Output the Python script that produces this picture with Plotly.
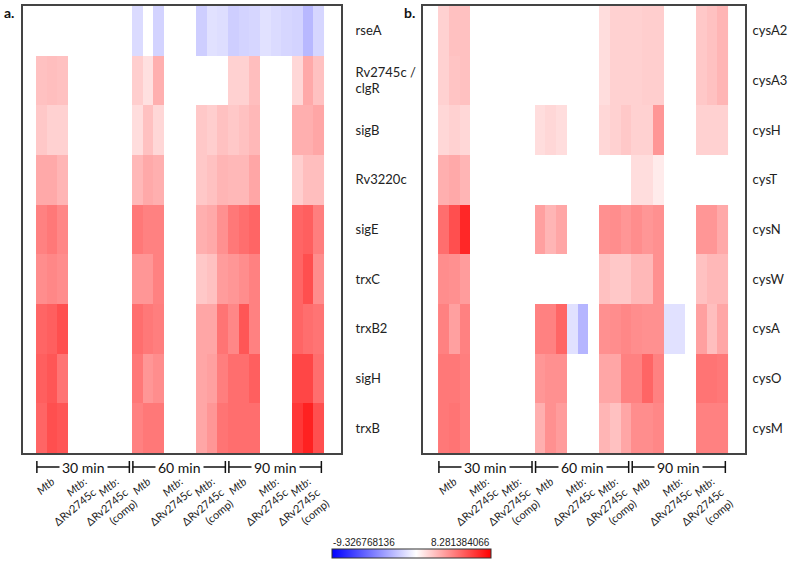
import plotly.graph_objects as go

N = None
# ---------------- data ----------------
genes_a = ["rseA", "Rv2745c /<br>clgR", "sigB", "Rv3220c", "sigE", "trxC", "trxB2", "sigH", "trxB"]
genes_b = ["cysA2", "cysA3", "cysH", "cysT", "cysN", "cysW", "cysA", "cysO", "cysM"]

time_groups = ["30 min", "60 min", "90 min"]
strain_labels = ["<i>Mtb</i>", "<i>Mtb</i>:<br>ΔRv2745c", "<i>Mtb</i>:<br>ΔRv2745c<br>(comp)"]

zmin_val = -9.326768136
zmax_val = 8.281384066

# panel a (27 sub-columns: 3 times x 3 strains x 3 replicates)
rseA    = [N, N, N,  N, N, N,  N, N, N,  -1.3, N, -1.6,  N, N, N,  -1.8, -1.1, -1.2,  -1.8, -1.6, -1.5,  -1.1, -1.3, -1.5,  -1.6, -2.6, -1.5]
clgR    = [2.0, 2.1, 2.0,  N, N, N,  N, N, N,  1.6, 1.0, 2.6,  N, N, N,  N, N, N,  1.5, 1.5, 2.1,  N, N, N,  1.3, 2.8, 2.0]
sigB    = [1.8, 1.5, 1.5,  N, N, N,  N, N, N,  1.1, 2.0, 1.3,  N, N, N,  1.8, 1.6, 2.0,  1.8, 2.0, 2.3,  N, N, N,  2.6, 2.6, 2.9]
Rv3220c = [2.8, 2.8, 2.4,  N, N, N,  N, N, N,  2.3, 2.8, 2.6,  N, N, N,  1.8, 2.0, 2.4,  2.3, 2.3, 2.9,  N, N, N,  1.6, 2.1, 2.1]
sigE    = [4.1, 4.4, 3.9,  N, N, N,  N, N, N,  4.4, 4.1, 4.1,  N, N, N,  2.6, 2.8, 3.6,  4.4, 4.7, 5.0,  N, N, N,  5.0, 5.2, 4.2]
trxC    = [3.7, 3.9, 3.7,  N, N, N,  N, N, N,  3.4, 3.4, 4.1,  N, N, N,  1.8, 2.0, 3.2,  3.4, 3.7, 4.1,  N, N, N,  5.0, 5.7, 3.7]
trxB2   = [5.0, 5.2, 5.7,  N, N, N,  N, N, N,  4.7, 4.4, 4.2,  N, N, N,  2.9, 2.9, 4.5,  3.9, 5.5, 4.1,  N, N, N,  5.0, 4.7, 4.5]
sigH    = [5.2, 5.5, 4.5,  N, N, N,  N, N, N,  4.4, 3.4, 3.7,  N, N, N,  2.9, 3.1, 4.2,  4.7, 4.7, 5.2,  N, N, N,  6.0, 6.0, 4.7]
trxB    = [5.0, 5.7, 5.5,  N, N, N,  N, N, N,  4.1, 4.4, 4.4,  N, N, N,  2.9, 3.4, 4.5,  4.7, 4.7, 4.7,  N, N, N,  6.5, 7.2, 5.7]

# panel b
cysA2 = [1.5, 2.0, 2.0,  N, N, N,  N, N, N,  N, N, N,  N, N, N,  1.1, 1.5, 1.5,  1.5, 1.6, 1.6,  N, N, N,  1.8, 2.0, 2.4]
cysA3 = [1.5, 1.9, 2.0,  N, N, N,  N, N, N,  N, N, N,  N, N, N,  1.1, 1.5, 1.5,  1.5, 1.6, 1.6,  N, N, N,  1.8, 2.0, 2.4]
cysH  = [1.3, 1.5, 1.3,  N, N, N,  N, N, N,  1.1, 1.3, 1.1,  N, N, N,  1.3, 1.5, 1.8,  1.5, 1.5, 3.4,  N, N, N,  1.5, 1.5, 1.5]
cysT  = [2.6, 2.8, 2.4,  N, N, N,  N, N, N,  N, N, N,  N, N, N,  N, N, N,  1.1, 1.1, 0.65,  N, N, N,  N, N, N]
cysN  = [4.7, 5.7, 7.0,  N, N, N,  N, N, N,  3.1, 2.4, 2.9,  N, N, N,  3.6, 3.7, 3.4,  3.7, 3.4, 3.6,  N, N, N,  3.4, 3.4, 2.8]
cysW  = [3.7, 3.6, 3.2,  N, N, N,  N, N, N,  N, N, N,  N, N, N,  2.0, 1.8, 1.8,  2.3, 2.3, 3.6,  N, N, N,  2.0, 2.3, 2.3]
cysA  = [4.1, 3.1, 4.1,  N, N, N,  N, N, N,  4.1, 4.1, 5.0,  -1.1, -2.7, N,  3.6, 3.7, 3.9,  3.7, 3.6, 3.6,  -1.1, -1.1, N,  3.1, 2.1, 2.9]
cysO  = [4.4, 4.4, 4.2,  N, N, N,  N, N, N,  3.4, 3.6, 3.6,  N, N, N,  2.9, 2.9, 4.1,  4.1, 5.0, 4.1,  N, N, N,  4.5, 4.5, 4.4]
cysM  = [4.4, 4.5, 4.2,  N, N, N,  N, N, N,  2.6, 3.6, 3.2,  N, N, N,  2.4, 2.0, 2.9,  3.7, 3.7, 3.9,  N, N, N,  4.1, 4.1, 4.1]

z_a = [rseA, clgR, sigB, Rv3220c, sigE, trxC, trxB2, sigH, trxB]
z_b = [cysA2, cysA3, cysH, cysT, cysN, cysW, cysA, cysO, cysM]

# ---------------- figure ----------------
W, H = 795, 564
def px_x(p): return p / W
def px_y(p): return 1 - p / H

ncol = 27
xs = list(range(ncol))
ys = list(range(9))

fig = go.Figure()
fig.add_trace(go.Heatmap(z=z_a, x=xs, y=ys, coloraxis="coloraxis", xaxis="x", yaxis="y",
                         hoverongaps=False))
fig.add_trace(go.Heatmap(z=z_b, x=xs, y=ys, coloraxis="coloraxis", xaxis="x2", yaxis="y2",
                         hoverongaps=False))

white_frac = (0 - zmin_val) / (zmax_val - zmin_val)
colorscale = [[0, "rgb(0,0,255)"], [white_frac, "rgb(255,255,255)"], [1, "rgb(255,0,0)"]]

tickvals_x = [3 * g + 1 for g in range(9)]
ticktext_x = strain_labels * 3

font_family = "Lato, Open Sans, sans-serif"
line_col = "#444444"

def xaxis_cfg(domain, rng, anchor):
    return dict(domain=domain, range=rng, anchor=anchor, showgrid=False, zeroline=False,
                showline=True, linecolor=line_col, linewidth=2, mirror=True,
                tickvals=tickvals_x, ticktext=ticktext_x, tickangle=-40,
                ticks="", ticklen=0, ticklabelstandoff=16,
                tickfont=dict(size=11, family=font_family, color="#222"))

def yaxis_cfg(anchor, ticktext, standoff):
    return dict(domain=[px_y(453), px_y(6)], range=[8.5, -0.5], anchor=anchor, side="right",
                showgrid=False, zeroline=False, showline=True, linecolor=line_col,
                linewidth=2, mirror=True, tickvals=ys, ticktext=ticktext, ticks="",
                ticklen=0, ticklabelstandoff=standoff,
                tickfont=dict(size=13, family=font_family, color="#222"))

fig.update_layout(
    width=W, height=H, margin=dict(l=0, r=0, t=0, b=0),
    paper_bgcolor="white", plot_bgcolor="white",
    xaxis=xaxis_cfg([px_x(23), px_x(341)], [-1.72, 28.09], "y"),
    yaxis=yaxis_cfg("x", genes_a, 10),
    xaxis2=xaxis_cfg([px_x(423), px_x(745)], [-1.9, 28.08], "y2"),
    yaxis2=yaxis_cfg("x2", genes_b, 3),
    coloraxis=dict(
        colorscale=colorscale, cmin=zmin_val, cmax=zmax_val,
        colorbar=dict(orientation="h", x=px_x(411.5), xanchor="center",
                      y=px_y(559), yanchor="bottom", len=159, lenmode="pixels",
                      thickness=9, xpad=0, ypad=0, outlinecolor="#333", outlinewidth=1,
                      showticklabels=False, ticks=""),
    ),
    showlegend=False,
)

# time brackets under each panel
shapes = []
annotations = []
for xref in ["x", "x2"]:
    for g, label in enumerate(time_groups):
        left = 9 * g - 0.42
        right = 9 * g + 8.25
        yl, yt, yb = px_y(467), px_y(461), px_y(473)
        shapes.append(dict(type="line", xref=xref, yref="paper", x0=left, x1=right, y0=yl, y1=yl,
                           line=dict(color="#111", width=1.5)))
        for xv in (left, right):
            shapes.append(dict(type="line", xref=xref, yref="paper", x0=xv, x1=xv, y0=yb, y1=yt,
                               line=dict(color="#111", width=1.5)))
        annotations.append(dict(xref=xref, yref="paper", x=(left + right) / 2, y=yl, text=label,
                                showarrow=False, bgcolor="white", borderpad=2,
                                font=dict(size=14, family=font_family, color="#111"),
                                xanchor="center", yanchor="middle"))

# panel letters
annotations.append(dict(xref="paper", yref="paper", x=px_x(2), y=px_y(12), text="<b>a.</b>",
                        showarrow=False, xanchor="left", yanchor="middle",
                        font=dict(size=14, family=font_family, color="#111")))
annotations.append(dict(xref="paper", yref="paper", x=px_x(402), y=px_y(12), text="<b>b.</b>",
                        showarrow=False, xanchor="left", yanchor="middle",
                        font=dict(size=14, family=font_family, color="#111")))

# colorbar end labels
cb_font = dict(size=10, family="Liberation Sans Narrow, Liberation Sans, sans-serif", color="#222")
annotations.append(dict(xref="paper", yref="paper", x=px_x(331), y=px_y(542), text=str(zmin_val),
                        showarrow=False, xanchor="left", yanchor="middle", font=cb_font))
annotations.append(dict(xref="paper", yref="paper", x=px_x(492), y=px_y(542), text=str(zmax_val),
                        showarrow=False, xanchor="right", yanchor="middle", font=cb_font))

fig.update_layout(shapes=shapes, annotations=annotations)

fig.write_html("out.html", config={"displayModeBar": False},
               post_script="document.body.style.margin='0';")
